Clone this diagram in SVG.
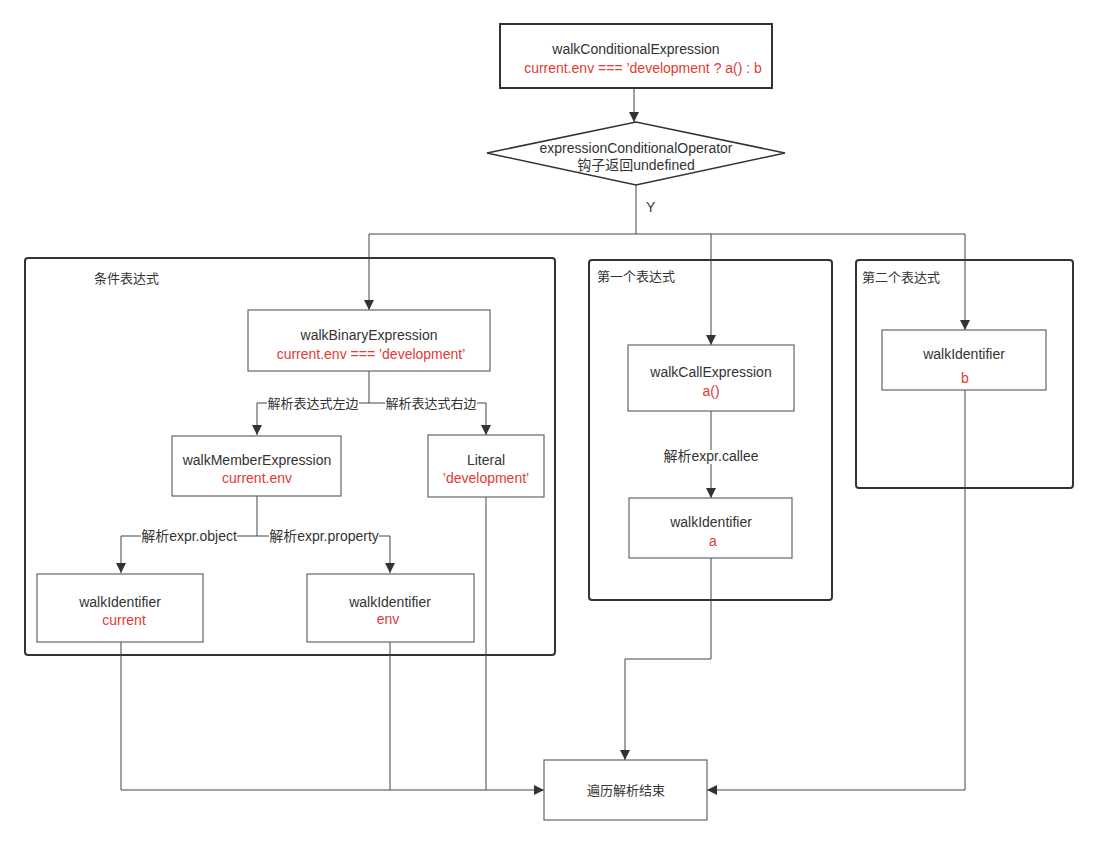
<svg xmlns="http://www.w3.org/2000/svg" width="1098" height="845" viewBox="0 0 1098 845">
<defs>
<marker id="arr" viewBox="0 0 10 10" refX="10" refY="5" markerWidth="10" markerHeight="10" markerUnits="userSpaceOnUse" orient="auto">
<path d="M0,0 L10,5 L0,10 z" fill="#333"/>
</marker>
<style>
text{font-family:"Liberation Sans","Noto Sans CJK SC",sans-serif;font-size:14px;fill:#333;text-anchor:middle}
.cjk{font-size:13px}
.red{fill:#e03b35}
.lbl{text-anchor:start}
.node{fill:#fff;stroke:#666;stroke-width:1.2}
.strong{fill:#fff;stroke:#333;stroke-width:2}
.cont{fill:none;stroke:#333;stroke-width:2}
.conn path,.conn line{fill:none;stroke:#444;stroke-width:1}
.bg{fill:#fff}
</style>
</defs>
<rect width="1098" height="845" fill="#fff"/>
<g id="containers">
<g id="c1"><rect class="cont" x="25" y="258" width="530" height="397" rx="3"/><text class="lbl cjk" x="94" y="283">条件表达式</text></g>
<g id="c2"><rect class="cont" x="589" y="260" width="243" height="340" rx="3"/><text class="lbl cjk" x="597" y="281">第一个表达式</text></g>
<g id="c3"><rect class="cont" x="856" y="260" width="217" height="228" rx="3"/><text class="lbl cjk" x="862" y="282">第二个表达式</text></g>
</g>
<g id="connectors" class="conn">
<path d="M634,88 V122" marker-end="url(#arr)"/>
<path d="M636,185 V234"/>
<path d="M369,234 H965"/>
<path d="M369,234 V310" marker-end="url(#arr)"/>
<path d="M711,234 V345" marker-end="url(#arr)"/>
<path d="M965,234 V330" marker-end="url(#arr)"/>
<path d="M369,371 V403 H257 V435" marker-end="url(#arr)"/>
<path d="M369,403 H486 V435" marker-end="url(#arr)"/>
<path d="M257,496 V536 H121 V573" marker-end="url(#arr)"/>
<path d="M257,536 H390 V573" marker-end="url(#arr)"/>
<path d="M711,411 V498" marker-end="url(#arr)"/>
<path d="M711,558 V659 H625 V760" marker-end="url(#arr)"/>
<path d="M965,390 V790 H707" marker-end="url(#arr)"/>
<path d="M121,642 V790 H544" marker-end="url(#arr)"/>
<path d="M390,642 V790"/>
<path d="M486,497 V790"/>
<text class="lbl" x="646" y="212">Y</text>
<rect class="bg" x="267" y="397" width="92" height="14"/>
<text class="cjk" x="313" y="408">解析表达式左边</text>
<rect class="bg" x="385" y="397" width="92" height="14"/>
<text class="cjk" x="431" y="408">解析表达式右边</text>
<rect class="bg" x="141" y="530" width="96" height="14"/>
<text x="189" y="541">解析expr.object</text>
<rect class="bg" x="269" y="530" width="110" height="14"/>
<text x="324" y="541">解析expr.property</text>
<rect class="bg" x="664" y="450" width="95" height="14"/>
<text x="711" y="461">解析expr.callee</text>
</g>
<g id="n-top"><rect class="strong" x="500" y="24" width="272" height="64"/><text x="636" y="54">walkConditionalExpression</text><text class="red" x="643" y="73">current.env === ’development ? a() : b</text></g>
<g id="n-diamond"><polygon class="node" points="487,153 636,122 785,153 636,185" style="stroke:#333;stroke-width:1.5"/><text x="636" y="153">expressionConditionalOperator</text><text x="636" y="170">钩子返回undefined</text></g>
<g id="n-binary"><rect class="node" x="248" y="310" width="242" height="61"/><text x="369" y="340">walkBinaryExpression</text><text class="red" x="371" y="359">current.env === ’development’</text></g>
<g id="n-member"><rect class="node" x="172" y="436" width="169" height="60"/><text x="257" y="465">walkMemberExpression</text><text class="red" x="257" y="483">current.env</text></g>
<g id="n-literal"><rect class="node" x="428" y="435" width="116" height="62"/><text x="486" y="465">Literal</text><text class="red" x="486" y="483">’development’</text></g>
<g id="n-current"><rect class="node" x="37" y="574" width="166" height="68"/><text x="120" y="607">walkIdentifier</text><text class="red" x="124" y="625">current</text></g>
<g id="n-env"><rect class="node" x="307" y="574" width="167" height="68"/><text x="390" y="607">walkIdentifier</text><text class="red" x="388" y="624">env</text></g>
<g id="n-call"><rect class="node" x="628" y="345" width="166" height="66"/><text x="711" y="377">walkCallExpression</text><text class="red" x="711" y="396">a()</text></g>
<g id="n-a"><rect class="node" x="629" y="498" width="163" height="60"/><text x="711" y="527">walkIdentifier</text><text class="red" x="713" y="546">a</text></g>
<g id="n-b"><rect class="node" x="882" y="330" width="164" height="60"/><text x="964" y="359">walkIdentifier</text><text class="red" x="965" y="383">b</text></g>
<g id="n-end"><rect class="node" x="544" y="760" width="163" height="60"/><text class="cjk" x="626" y="795">遍历解析结束</text></g>
</svg>
